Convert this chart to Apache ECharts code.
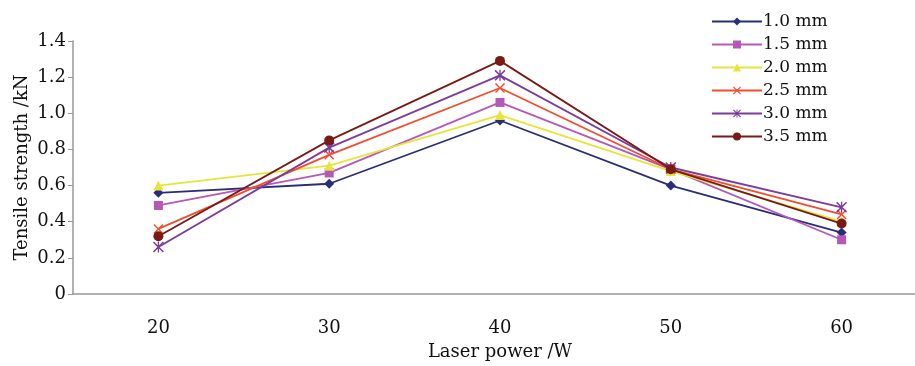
<!DOCTYPE html>
<html><head><meta charset="utf-8">
<script src="https://cdn.jsdelivr.net/npm/echarts@6/dist/echarts.min.js"></script>
<style>html,body{margin:0;padding:0;background:#fff}#c{width:915px;height:366px}</style>
</head><body><div id="c"></div>
<script>
const categories = ['20','30','40','50','60'];
const seriesNames = ['1.0 mm','1.5 mm','2.0 mm','2.5 mm','3.0 mm','3.5 mm'];
const s10 = [0.56, 0.61, 0.96, 0.60, 0.34];
const s15 = [0.49, 0.67, 1.06, 0.69, 0.30];
const s20 = [0.60, 0.71, 0.99, 0.68, 0.40];
const s25 = [0.36, 0.77, 1.14, 0.69, 0.44];
const s30 = [0.26, 0.81, 1.21, 0.70, 0.48];
const s35 = [0.32, 0.85, 1.29, 0.69, 0.39];
const yTicks = [0, 0.2, 0.4, 0.6, 0.8, 1.0, 1.2, 1.4];

const colors = ['#2b2d78','#b558b8','#e6e63a','#f04e2c','#7b3c9c','#7a1a16'];
const crossPath = 'path://M0,1 L1,0 L5,4 L9,0 L10,1 L6,5 L10,9 L9,10 L5,6 L1,10 L0,9 L4,5 Z';
const starPath = 'path://M0,1 L1,0 L5,4 L9,0 L10,1 L6,5 L10,9 L9,10 L5,6 L1,10 L0,9 L4,5 Z M4.4,0 L5.6,0 L5.6,10 L4.4,10 Z';
const symbols = ['diamond','rect','triangle',crossPath,starPath,'circle'];
const symSizes = [10,9,10,10,11,10];
const data = [s10,s15,s20,s25,s30,s35];
const font = '"DejaVu Serif", "Liberation Serif", serif';

const chart = echarts.init(document.getElementById('c'));
chart.setOption({
  animation: false,
  grid: { left: 73, right: -12, top: 41, bottom: 72, outerBoundsMode: 'none', containLabel: false },
  legend: {
    orient: 'vertical', left: 706, top: 8,
    itemWidth: 50, itemHeight: 10, itemGap: 6,
    textStyle: { fontFamily: font, fontSize: 17, lineHeight: 17, color: '#111', padding: [0,0,0,-4] },
    data: seriesNames
  },
  xAxis: {
    type: 'category', data: categories, boundaryGap: true,
    name: 'Laser power /W', nameLocation: 'middle', nameGap: 49, nameMoveOverlap: false,
    nameTextStyle: { fontFamily: font, fontSize: 18, color: '#111' },
    axisLine: { lineStyle: { color: '#999', width: 1.5 } },
    axisTick: { inside: true, length: 8, lineStyle: { color: '#777' } },
    axisLabel: { fontFamily: font, fontSize: 18, color: '#111', margin: 25 }
  },
  yAxis: {
    type: 'value', min: 0, max: 1.4, interval: 0.2,
    name: 'Tensile strength /kN', nameLocation: 'middle', nameGap: 42, nameMoveOverlap: false,
    nameTextStyle: { fontFamily: font, fontSize: 18, color: '#111' },
    axisLine: { show: true, lineStyle: { color: '#999', width: 1.5 } },
    axisTick: { show: true, length: 5, lineStyle: { color: '#999' } },
    splitLine: { show: false },
    axisLabel: { fontFamily: font, fontSize: 18, color: '#111', margin: 7,
      formatter: v => { const t = yTicks.find(x => Math.abs(x - v) < 1e-9); return t === 0 ? '0' : (t !== undefined ? t.toFixed(1) : ''); } }
  },
  series: seriesNames.map((n, i) => ({
    name: n, type: 'line', data: data[i],
    symbol: symbols[i], symbolSize: symSizes[i],
    lineStyle: { color: colors[i], width: 1.8 },
    itemStyle: { color: colors[i] },
    z: 2 + i
  }))
});
</script></body></html>
